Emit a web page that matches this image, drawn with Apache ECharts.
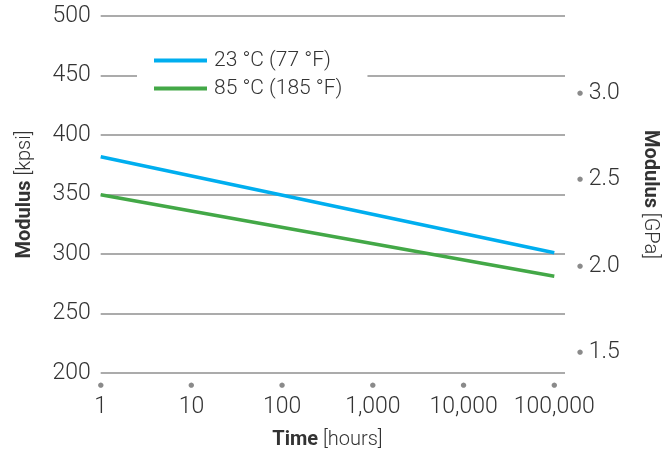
<!DOCTYPE html>
<html>
<head>
<meta charset="utf-8">
<script src="https://cdn.jsdelivr.net/npm/echarts@6/dist/echarts.min.js"></script>
<style>
html,body{margin:0;padding:0;background:#fff;}
#chart{width:670px;height:455px;}
</style>
</head>
<body>
<div id="chart"></div>
<script>
// Data
const hours = [1, 100000];
const series23C = [381, 300];      // kpsi, 23 °C (77 °F)
const series85C = [349, 280];      // kpsi, 85 °C (185 °F)
const seriesNames = ['23 °C (77 °F)', '85 °C (185 °F)'];
const kpsiTicks = [200, 250, 300, 350, 400, 450, 500];
const gpaTicks = [1.5, 2.0, 2.5, 3.0];
const KPSI_PER_GPA = 145.038;

const FONT = 'Roboto, "Liberation Sans", sans-serif';
const TXT = '#333333';
const DOT = '#8a8a8a';

const chart = echarts.init(document.getElementById('chart'), null, {renderer: 'canvas'});

function fmtHours(v) {
  const r = Math.round(v);
  return r.toLocaleString('en-US');
}

const titleRich = {
  b: {fontFamily: FONT, fontSize: 20, fontWeight: 'bold', color: TXT},
  l: {fontFamily: FONT, fontSize: 20, fontWeight: 300, color: TXT}
};

const option = {
  backgroundColor: '#ffffff',
  animation: false,
  textStyle: {fontFamily: FONT},
  grid: [
    {left: 100.7, right: 105, top: 16, bottom: 82},
    {left: 100.7, width: 453.6, top: 16, bottom: 82}
  ],
  legend: {
    left: 137, top: 46,
    orient: 'vertical',
    padding: [4, 25, 6, 17],
    backgroundColor: '#ffffff',
    itemGap: 7,
    itemWidth: 53, itemHeight: 4,
    icon: 'rect',
    textStyle: {fontFamily: FONT, fontSize: 21, fontWeight: 300, color: TXT, padding: [0, 0, 0, 2]},
    data: seriesNames
  },
  xAxis: [
    {gridIndex: 0, type: 'value', show: false, min: 0, max: 1},
    {
      gridIndex: 1, type: 'log', logBase: 10, min: hours[0], max: hours[hours.length - 1],
      axisLine: {show: false}, axisTick: {show: false}, splitLine: {show: false},
      name: '{b|Time}{l| [hours]}',
      nameLocation: 'middle', nameGap: 59,
      nameTextStyle: {rich: titleRich},
      axisLabel: {
        margin: 8,
        formatter: function (v) { return '{d|●}\n{v|' + fmtHours(v) + '}'; },
        rich: {
          d: {fontFamily: 'DejaVu Sans', fontSize: 7, lineHeight: 12, color: DOT, align: 'center'},
          v: {fontFamily: FONT, fontSize: 23, fontWeight: 300, lineHeight: 32, color: TXT, align: 'center'}
        }
      }
    }
  ],
  yAxis: [
    {
      gridIndex: 0, type: 'value', min: kpsiTicks[0], max: kpsiTicks[kpsiTicks.length - 1], interval: 50,
      axisLine: {show: false}, axisTick: {show: false},
      splitLine: {show: true, lineStyle: {color: '#8f8f8f', width: 1.5}},
      axisLabel: {margin: 10, fontFamily: FONT, fontSize: 23, fontWeight: 300, color: TXT},
      name: '{b|Modulus}{l| [kpsi]}',
      nameLocation: 'middle', nameGap: 66, nameRotate: 90,
      nameTextStyle: {rich: titleRich}
    },
    {
      gridIndex: 0, type: 'value', position: 'right',
      min: kpsiTicks[0] / KPSI_PER_GPA, max: kpsiTicks[kpsiTicks.length - 1] / KPSI_PER_GPA,
      splitNumber: 5,
      axisLine: {show: false}, axisTick: {show: false}, splitLine: {show: false},
      axisLabel: {
        margin: 12, showMinLabel: false, showMaxLabel: false,
        formatter: function (v) {
          for (const t of gpaTicks) { if (Math.abs(v - t) < 1e-6) return '{d|●}{v| ' + t.toFixed(1) + '}'; }
          return '';
        },
        rich: {
          d: {fontFamily: 'DejaVu Sans', fontSize: 7, color: DOT},
          v: {fontFamily: FONT, fontSize: 23, fontWeight: 300, color: TXT}
        }
      },
      name: '{b|Modulus}{l| [GPa]}',
      nameLocation: 'middle', nameGap: 75, nameRotate: -90,
      nameTextStyle: {rich: titleRich}
    },
    {gridIndex: 1, type: 'value', show: false, min: kpsiTicks[0], max: kpsiTicks[kpsiTicks.length - 1]}
  ],
  series: [
    {
      name: seriesNames[0], type: 'line', xAxisIndex: 1, yAxisIndex: 2,
      data: hours.map((h, i) => [h, series23C[i]]),
      showSymbol: false, symbol: 'none',
      lineStyle: {color: '#00aeef', width: 3.5},
      itemStyle: {color: '#00aeef'}
    },
    {
      name: seriesNames[1], type: 'line', xAxisIndex: 1, yAxisIndex: 2,
      data: hours.map((h, i) => [h, series85C[i]]),
      showSymbol: false, symbol: 'none',
      lineStyle: {color: '#43a847', width: 3.5},
      itemStyle: {color: '#43a847'}
    }
  ]
};
chart.setOption(option);
</script>
</body>
</html>
